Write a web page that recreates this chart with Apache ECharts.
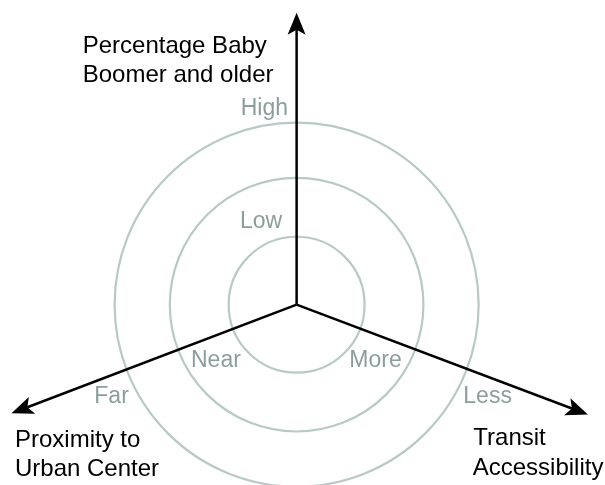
<!DOCTYPE html>
<html>
<head>
<meta charset="utf-8">
<script src="https://cdn.jsdelivr.net/npm/echarts@6/dist/echarts.min.js"></script>
<style>
html,body{margin:0;padding:0;background:#fff;}
#chart{width:605px;height:485px;}
</style>
</head>
<body>
<div id="chart"></div>
<script>
// Concentric ring levels (units: outer ring = 3)
const ringRadii = [1.12, 2.09, 3.0];
// Axis arrow end points [x, y] in the same units, from the centre
const axisEnds = [[0, 4.81], [-4.70, -1.79], [4.80, -1.81]];
const axisNames = [['Percentage Baby', 'Boomer and older'], ['Proximity to', 'Urban Center'], ['Transit', 'Accessibility']];
const axisLevelLabels = [['Low', 'High'], ['Near', 'Far'], ['More', 'Less']];

const ringColor = '#b9c9c5';
const levelColor = '#8c9e9b';
const FONT = '"Liberation Sans", Arial, Helvetica, sans-serif';

const chart = echarts.init(document.getElementById('chart'), null, {renderer: 'canvas'});

function txt(text, x, baseline, size, color) {
  return {
    type: 'text', x: x, y: baseline - 0.3465 * size, silent: true,
    style: {text: text, fontFamily: FONT, fontSize: size, fill: color, align: 'left', verticalAlign: 'middle'}
  };
}

const option = {
  animation: false,
  backgroundColor: '#ffffff',
  grid: {left: 0, right: 0, top: 0, bottom: 0},
  xAxis: {type: 'value', min: -4.889, max: 5.083, show: false},
  yAxis: {type: 'value', min: -2.972, max: 5.022, show: false},
  series: [
    {
      type: 'custom', coordinateSystem: 'cartesian2d', clip: false, silent: true,
      data: ringRadii.map(r => [r]),
      renderItem: function (params, api) {
        const c = api.coord([0, 0]);
        const r = api.size([api.value(0), 0])[0];
        return {type: 'circle', shape: {cx: c[0], cy: c[1], r: r},
          style: {fill: 'none', stroke: ringColor, lineWidth: 2.2}};
      }
    },
    {
      type: 'custom', coordinateSystem: 'cartesian2d', clip: false, silent: true,
      data: axisEnds,
      renderItem: function (params, api) {
        const c = api.coord([0, 0]);
        const e = api.coord([api.value(0), api.value(1)]);
        const dx = e[0] - c[0], dy = e[1] - c[1];
        const len = Math.sqrt(dx * dx + dy * dy);
        const ux = dx / len, uy = dy / len, px = -uy, py = ux;
        const L = 22, W = 9, N = 17;
        const back = [e[0] - ux * L, e[1] - uy * L];
        const notch = [e[0] - ux * N, e[1] - uy * N];
        return {type: 'group', children: [
          {type: 'line', shape: {x1: c[0], y1: c[1], x2: notch[0], y2: notch[1]},
            style: {stroke: '#000', lineWidth: 2.5}},
          {type: 'polygon', shape: {points: [
            e, [back[0] + px * W, back[1] + py * W], notch, [back[0] - px * W, back[1] - py * W]]},
            style: {fill: '#000', stroke: 'none'}}
        ]};
      }
    }
  ],
  graphic: [
    txt(axisNames[0][0], 82.7, 55, 24, '#000'),
    txt(axisNames[0][1], 82.7, 84, 24, '#000'),
    txt(axisNames[1][0], 15, 449, 24, '#000'),
    txt(axisNames[1][1], 15, 478, 24, '#000'),
    txt(axisNames[2][0], 473.3, 447, 24, '#000'),
    txt(axisNames[2][1], 472.7, 477, 24, '#000'),
    txt(axisLevelLabels[0][1], 240.7, 117, 23, levelColor),
    txt(axisLevelLabels[0][0], 240, 229.5, 23, levelColor),
    txt(axisLevelLabels[1][0], 191, 368.3, 23, levelColor),
    txt(axisLevelLabels[1][1], 94.3, 405, 23, levelColor),
    txt(axisLevelLabels[2][0], 349.3, 368.3, 23, levelColor),
    txt(axisLevelLabels[2][1], 463.3, 405, 23, levelColor)
  ]
};
chart.setOption(option);
</script>
</body>
</html>
